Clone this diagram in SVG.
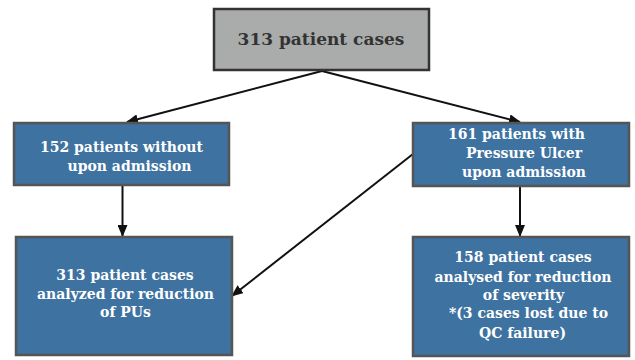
<svg xmlns="http://www.w3.org/2000/svg" width="635" height="360" viewBox="0 0 635 360">
<style>
.box{fill:#3e72a0;stroke:#555;stroke-width:2.5}
.gray{fill:#a9acaa;stroke:#333;stroke-width:2.5}
text{font-family:"DejaVu Serif","Liberation Serif",serif;font-weight:bold;text-anchor:middle}
.w{fill:#fff;font-size:14px}
.d{fill:#333;font-size:17px}
.c{stroke:#111;stroke-width:2;fill:none;marker-end:url(#ah)}
</style>
<defs>
<marker id="ah" markerWidth="12" markerHeight="10" refX="11" refY="5" orient="auto" markerUnits="userSpaceOnUse">
<path d="M0,0 L12,5 L0,10 z" fill="#111"/>
</marker>
</defs>
<rect width="635" height="360" fill="#fff"/>
<g id="connectors">
<line class="c" x1="322" y1="71" x2="127" y2="122"/>
<line class="c" x1="322" y1="71" x2="520" y2="122"/>
<line class="c" x1="122.5" y1="186" x2="122.5" y2="236"/>
<line class="c" x1="520" y1="187" x2="520" y2="236"/>
<line class="c" x1="413" y1="154" x2="232" y2="296"/>
</g>
<g id="n-top">
<rect class="gray" x="214" y="9" width="215" height="61"/>
<text class="d" x="321" y="45">313 patient cases</text>
</g>
<g id="n-without">
<rect class="box" x="14" y="123" width="215" height="62"/>
<text class="w" x="121.5" y="152">152 patients without</text>
<text class="w" x="129.5" y="171">upon admission</text>
</g>
<g id="n-with">
<rect class="box" x="413" y="123" width="216" height="63"/>
<text class="w" x="516.5" y="139">161 patients with</text>
<text class="w" x="524" y="158">Pressure Ulcer</text>
<text class="w" x="524" y="177">upon admission</text>
</g>
<g id="n-pus">
<rect class="box" x="16" y="237" width="216" height="118"/>
<text class="w" x="125" y="280">313 patient cases</text>
<text class="w" x="125.5" y="299">analyzed for reduction</text>
<text class="w" x="125.5" y="317">of PUs</text>
</g>
<g id="n-severity">
<rect class="box" x="413" y="237" width="216" height="119"/>
<text class="w" x="523" y="262">158 patient cases</text>
<text class="w" x="523" y="282">analysed for reduction</text>
<text class="w" x="523.5" y="300">of severity</text>
<text class="w" x="528.5" y="318">*(3 cases lost due to</text>
<text class="w" x="522.5" y="338">QC failure)</text>
</g>
</svg>
